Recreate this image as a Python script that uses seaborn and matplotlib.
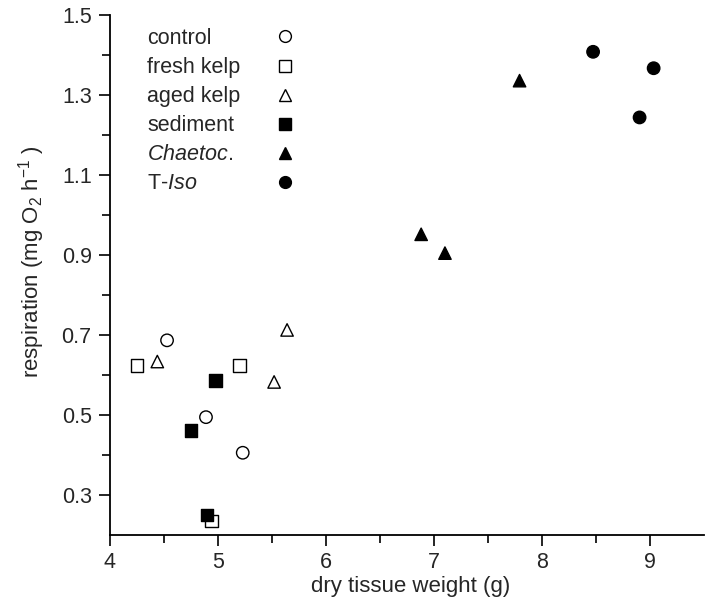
import numpy as np
import pandas as pd
import matplotlib
matplotlib.use("Agg")
import matplotlib.pyplot as plt
from matplotlib.lines import Line2D
import seaborn as sns

# values
groups = ["control", "fresh kelp", "aged kelp", "sediment", "Chaetoc.", "T-Iso"]
labels = ["control", "fresh kelp", "aged kelp", "sediment",
          r"$\mathit{Chaetoc.}$", r"T-$\mathit{Iso}$"]
markers = ["o", "s", "^", "s", "^", "o"]
faces = ["white", "white", "white", "black", "black", "black"]

control_x = [4.53, 4.89, 5.23]
control_y = [0.687, 0.495, 0.406]
fresh_x = [4.25, 5.20, 4.94]
fresh_y = [0.624, 0.624, 0.235]
aged_x = [4.44, 5.64, 5.52]
aged_y = [0.634, 0.713, 0.583]
sediment_x = [4.98, 4.75, 4.90]
sediment_y = [0.587, 0.462, 0.250]
chaetoc_x = [7.79, 6.88, 7.10]
chaetoc_y = [1.336, 0.952, 0.905]
tiso_x = [8.47, 9.03, 8.90]
tiso_y = [1.408, 1.367, 1.244]

xs = [control_x, fresh_x, aged_x, sediment_x, chaetoc_x, tiso_x]
ys = [control_y, fresh_y, aged_y, sediment_y, chaetoc_y, tiso_y]

df = pd.concat([pd.DataFrame({"weight": x, "resp": y, "group": g})
                for g, x, y in zip(groups, xs, ys)], ignore_index=True)

sns.set_style("ticks")
plt.rcParams["font.family"] = ["Liberation Sans", "DejaVu Sans"]
plt.rcParams["mathtext.fontset"] = "custom"
plt.rcParams["mathtext.rm"] = "Liberation Sans"
plt.rcParams["mathtext.it"] = "Liberation Sans:italic"

fig = plt.figure(figsize=(7.08, 6.0), dpi=100)
ax = fig.add_axes([0.155, 0.108, 0.84, 0.867])

sns.scatterplot(data=df, x="weight", y="resp", hue="group", style="group",
                palette=dict(zip(groups, faces)), markers=dict(zip(groups, markers)),
                edgecolor="black", linewidth=1.0, s=80, legend=False, ax=ax)

ax.set_xlim(4, 9.5)
ax.set_ylim(0.2, 1.5)
ax.set_xticks(np.arange(4, 10, 1))
ax.set_xticks(np.arange(4.5, 9.0, 1), minor=True)
ax.set_yticks(np.arange(0.3, 1.55, 0.2))
ax.set_yticks(np.arange(0.4, 1.45, 0.2), minor=True)
ax.set_yticklabels([f"{v:.1f}" for v in np.arange(0.3, 1.55, 0.2)])
ax.tick_params(which="major", length=8, width=1.2, labelsize=15.5, color="black")
ax.tick_params(which="minor", length=6, width=1.2, color="black")
ax.tick_params(axis="y", pad=5)
ax.tick_params(axis="x", pad=4)
for side in ["left", "bottom"]:
    ax.spines[side].set_linewidth(1.3)
    ax.spines[side].set_color("black")
sns.despine(ax=ax)

ax.set_xlabel("dry tissue weight (g)", fontsize=16)
ax.set_ylabel(r"respiration (mg O$_2$ h$^{-1}$ )", fontsize=16)
ax.xaxis.set_label_coords(0.506, -0.078)
ax.yaxis.set_label_coords(-0.105, 0.525)

# legend: labels left aligned, symbols in a column to their right
handles = [Line2D([], [], ls="", marker=m, markersize=8.5, markerfacecolor=f,
                  markeredgecolor="black", markeredgewidth=1.0)
           for m, f in zip(markers, faces)]
leg_txt = fig.legend(handles, labels, loc="upper left",
                     bbox_to_anchor=(147 / 708, 1 - 28 / 600), frameon=False,
                     handlelength=0, handletextpad=0, borderpad=0,
                     borderaxespad=0, labelspacing=0.375, fontsize=15.5)
for h in leg_txt.legend_handles:
    h.set_visible(False)
fig.legend(handles, [""] * len(handles), loc="upper left",
           bbox_to_anchor=(270 / 708, 1 - 28 / 600), frameon=False,
           handlelength=1.4, handletextpad=0, borderpad=0,
           borderaxespad=0, labelspacing=0.375, fontsize=15.5)

fig.savefig("out.png", dpi=100)
